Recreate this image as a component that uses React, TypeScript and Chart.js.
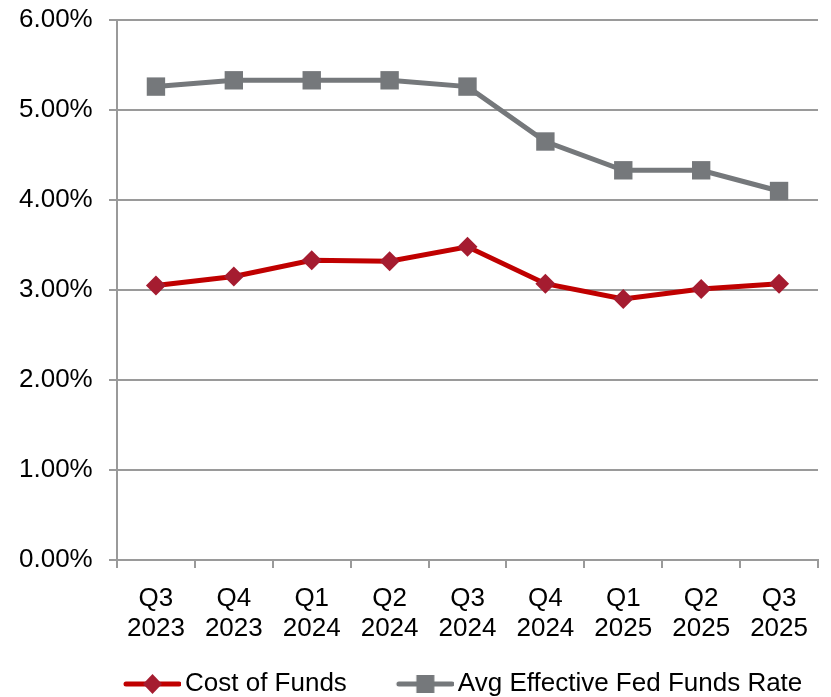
import React, { useEffect, useRef } from "react";
import { Chart, registerables } from "chart.js";

Chart.register(...registerables);

const categories: string[][] = [
  ["Q3", "2023"], ["Q4", "2023"], ["Q1", "2024"], ["Q2", "2024"], ["Q3", "2024"],
  ["Q4", "2024"], ["Q1", "2025"], ["Q2", "2025"], ["Q3", "2025"],
];
const costOfFunds: number[] = [3.05, 3.15, 3.33, 3.32, 3.48, 3.07, 2.9, 3.01, 3.07];
const fedFundsRate: number[] = [5.26, 5.33, 5.33, 5.33, 5.26, 4.65, 4.33, 4.33, 4.1];
const seriesNames: string[] = ["Cost of Funds", "Avg Effective Fed Funds Rate"];

const FONT = "'Liberation Sans', Arial, sans-serif";
const RED_LINE = "#C00000";
const RED_MARK = "#A51C30";
const GRAY = "#75787B";
const GRID = "#9a9a9a";

function makeLegendImage(lineColor: string, markColor: string, shape: "diamond" | "square") {
  const c = document.createElement("canvas");
  c.width = 106;
  c.height = 24;
  const ctx = c.getContext("2d")!;
  ctx.strokeStyle = lineColor;
  ctx.lineWidth = 5;
  ctx.lineCap = "round";
  ctx.beginPath();
  ctx.moveTo(51, 12);
  ctx.lineTo(104, 12);
  ctx.stroke();
  ctx.fillStyle = markColor;
  const cx = 77.5;
  const cy = 12;
  ctx.beginPath();
  if (shape === "diamond") {
    ctx.moveTo(cx, cy - 10);
    ctx.lineTo(cx + 9.5, cy);
    ctx.lineTo(cx, cy + 10);
    ctx.lineTo(cx - 9.5, cy);
    ctx.closePath();
  } else {
    ctx.rect(cx - 9, cy - 9, 18, 18);
  }
  ctx.fill();
  return c;
}

const legendShift = {
  id: "legendShift",
  afterLayout(chart: any) {
    const lg = chart.legend;
    if (lg) {
      lg.left += 55;
      lg.right += 55;
    }
  },
};

export default function App() {
  const ref = useRef<HTMLCanvasElement | null>(null);

  useEffect(() => {
    document.body.style.margin = "0";
    if (!ref.current) return;
    const legendImgs = [
      makeLegendImage(RED_LINE, RED_MARK, "diamond"),
      makeLegendImage(GRAY, GRAY, "square"),
    ];
    const chart = new Chart(ref.current, {
      type: "line",
      plugins: [legendShift],
      data: {
        labels: categories,
        datasets: [
          {
            label: seriesNames[0],
            data: costOfFunds,
            borderColor: RED_LINE,
            borderWidth: 5,
            pointStyle: "rectRot",
            pointRadius: 10,
            pointBackgroundColor: RED_MARK,
            pointBorderColor: RED_MARK,
            pointBorderWidth: 0,
            tension: 0,
          },
          {
            label: seriesNames[1],
            data: fedFundsRate,
            borderColor: GRAY,
            borderWidth: 5,
            pointStyle: "rect",
            pointRadius: 13,
            pointBackgroundColor: GRAY,
            pointBorderColor: GRAY,
            pointBorderWidth: 0,
            tension: 0,
          },
        ],
      },
      options: {
        responsive: false,
        animation: false,
        layout: { padding: { left: 19, right: 6, top: 20, bottom: 0 } },
        plugins: {
          tooltip: { enabled: false },
          legend: {
            position: "bottom",
            align: "start",
            maxHeight: 36,
            labels: {
              usePointStyle: true,
              pointStyleWidth: 88,
              boxHeight: 26,
              padding: 10,
              color: "#000",
              font: { family: FONT, size: 26 },
              generateLabels: (ch: any) => {
                const items = Chart.defaults.plugins.legend.labels.generateLabels(ch);
                items.forEach((it: any, i: number) => {
                  it.pointStyle = legendImgs[i];
                });
                return items;
              },
            },
          },
        },
        scales: {
          x: {
            offset: true,
            afterFit: (s: any) => {
              s.height = 101;
            },
            grid: {
              offset: true,
              drawOnChartArea: false,
              drawTicks: true,
              tickLength: 8,
              color: GRID,
              lineWidth: 2,
            },
            border: { color: GRID, width: 2 },
            ticks: {
              color: "#000",
              padding: 16,
              font: { family: FONT, size: 26, lineHeight: 1.15 },
              maxRotation: 0,
              autoSkip: false,
            },
          },
          y: {
            min: 0,
            max: 6,
            afterFit: (s: any) => {
              s.width = 98;
            },
            grid: {
              color: GRID,
              lineWidth: 2,
              tickLength: 8,
            },
            border: { color: GRID, width: 2 },
            ticks: {
              stepSize: 1,
              color: "#000",
              padding: 4,
              crossAlign: "far",
              font: { family: FONT, size: 26, lineHeight: 1.1 },
              callback: (v: any) => Number(v).toFixed(2) + "%",
            },
          },
        },
      },
    });
    return () => chart.destroy();
  }, []);

  return <canvas ref={ref} width={831} height={697} />;
}
